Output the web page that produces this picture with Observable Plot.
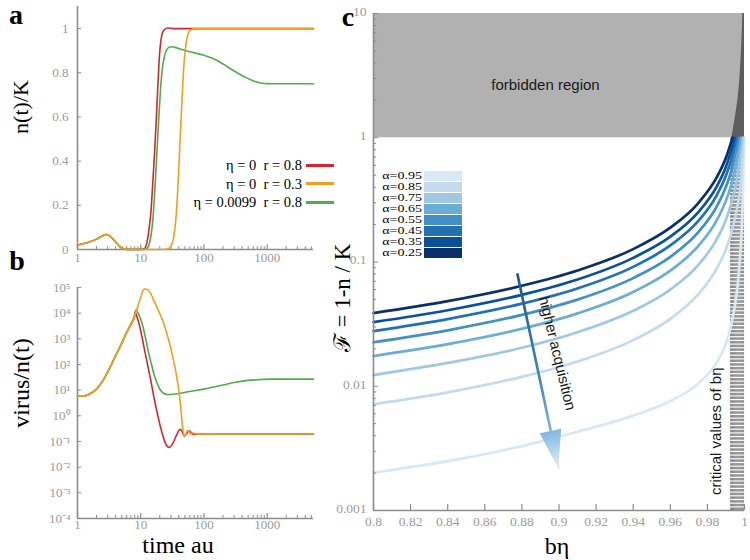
<!DOCTYPE html>
<html><head><meta charset="utf-8">
<script src="https://cdn.jsdelivr.net/npm/d3@7"></script>
<script src="https://cdn.jsdelivr.net/npm/@observablehq/plot@0.6"></script>
<style>
body{margin:0;background:#fff;}
#root{position:relative;width:750px;height:560px;overflow:hidden;font-family:"Liberation Serif","DejaVu Serif",serif;}
.lbl{position:absolute;white-space:pre;line-height:1;transform:translate(-50%,-50%);color:#000;font-family:"Liberation Serif","DejaVu Serif",serif;}
.rot{transform:translate(-50%,-50%) rotate(-90deg);}
</style></head><body><div id="root"></div>
<script>
// ---------------- data: panel a (n(t)/K vs time) ----------------
const aXMajor = [1, 10, 100, 1000];
const aYTicks = [0, 0.2, 0.4, 0.6, 0.8, 1];
const aEarlyT = [1, 1.5, 2, 2.5, 2.8, 3.2, 3.8, 4.5, 5.2, 6, 8];
const aEarlyN = [0.02, 0.033, 0.047, 0.062, 0.068, 0.063, 0.042, 0.018, 0.004, 0.0005, 0];
const aRedT = [10, 11.5, 12.5, 13.5, 14.5, 15.5, 16.5, 17.5, 18.5, 19.5, 20.5, 22, 24, 27, 32, 5400];
const aRedN = [0, 0.005, 0.03, 0.09, 0.17, 0.3, 0.43, 0.57, 0.72, 0.85, 0.93, 0.98, 0.997, 1.003, 1.0, 1.0];
const aGreenT = [10, 11, 12.5, 13.5, 14.5, 15.5, 16.5, 17.5, 18.5, 19.5, 20.5, 22, 24, 27, 30, 35, 45, 60, 100, 150, 200, 300, 450, 620, 800, 1000, 1500, 5400];
const aGreenN = [0, 0, 0.005, 0.02, 0.06, 0.13, 0.24, 0.37, 0.5, 0.62, 0.72, 0.82, 0.88, 0.912, 0.918, 0.915, 0.905, 0.895, 0.879, 0.86, 0.84, 0.808, 0.78, 0.762, 0.754, 0.751, 0.75, 0.75];
const aOrangeT = [10, 22, 27, 30, 33, 36, 39, 42, 45, 48, 52, 56, 62, 75, 5400];
const aOrangeN = [0, 0, 0.003, 0.015, 0.05, 0.14, 0.3, 0.5, 0.68, 0.83, 0.93, 0.975, 0.995, 1.0, 1.0];

// ---------------- data: panel b (virus/n(t) vs time) ----------------
const bYTicks = [1e-4, 1e-3, 1e-2, 1e-1, 1, 10, 100, 1e3, 1e4, 1e5];
const bYLabels = ["10⁻⁴", "10⁻³", "10⁻²", "10⁻¹", "10⁰", "10¹", "10²", "10³", "10⁴", "10⁵"];
const bEarlyT = [1, 1.3, 1.6, 2, 2.5, 3, 4, 5, 6, 7, 8];
const bEarlyV = [6.0, 6.0, 7.4, 11, 23, 51, 219, 661, 1780, 3720, 7940];
const bRedT = [8.1, 9, 10, 11.3, 12.75, 14.5, 16.2, 18.3, 20.6, 22.7, 24.9, 28, 31, 33.6, 38, 41.8, 45, 48.5, 53, 58.2, 64, 70, 80, 5400];
const bRedV = [10700, 5620, 2040, 457, 105, 22.4, 5.13, 1.26, 0.355, 0.151, 0.079, 0.059, 0.072, 0.107, 0.209, 0.302, 0.251, 0.166, 0.2, 0.263, 0.209, 0.19, 0.195, 0.195];
const bGreenT = [8.35, 9.5, 10.6, 12, 13.5, 15, 16.2, 18, 19.5, 21, 23.3, 26, 30, 40, 60, 100, 200, 300, 500, 750, 1200, 5400];
const bGreenV = [13180, 7940, 3720, 1000, 251, 89, 41.7, 20, 12.6, 9.3, 7.4, 6.8, 6.8, 7.4, 8.9, 11, 15.8, 20, 24, 25.7, 26.9, 26.9];
const bOrangeT = [9, 10, 10.7, 11.3, 12.5, 14, 16.2, 19.5, 23.3, 26.5, 29.7, 33, 35.7, 38, 40.2, 42, 43.9, 46, 48.5, 51, 54.7, 58, 61.8, 66, 75, 90, 5400];
const bOrangeV = [18620, 41690, 70790, 87100, 85110, 66070, 30200, 11220, 3715, 1318, 457, 141, 56.2, 22.4, 9.55, 3.55, 1.17, 0.355, 0.151, 0.178, 0.263, 0.24, 0.195, 0.219, 0.195, 0.195, 0.195];

// ---------------- data: panel c (F vs b*eta) ----------------
const cXTicks = [0.8, 0.82, 0.84, 0.86, 0.88, 0.9, 0.92, 0.94, 0.96, 0.98, 1];
const cXLabels = ["0.8", "0.82", "0.84", "0.86", "0.88", "0.9", "0.92", "0.94", "0.96", "0.98", "1"];
const cYTicks = [0.001, 0.01, 0.1, 1, 10];
const cYLabels = ["0.001", "0.01", "0.1", "1", "10"];
const alphas = [0.95, 0.85, 0.75, 0.65, 0.55, 0.45, 0.35, 0.25];
const blues = ["#dae8f5", "#c4daee", "#9ec9e1", "#6badd6", "#4291c6", "#2171b5", "#0a509b", "#0a2f6a"];
const cXBase = [0.8, 0.84, 0.88, 0.91, 0.94, 0.96, 0.975, 0.985, 0.99];
const c95X = [...cXBase, 0.994, 0.997, 0.999, 0.9998];
const c95F = [0.00202, 0.0025, 0.0033, 0.0043, 0.0058, 0.0076, 0.0105, 0.0155, 0.022, 0.038, 0.085, 0.3, 1];
const c85X = [...cXBase, 0.993, 0.996, 0.998, 0.9995];
const c85F = [0.00716, 0.00893, 0.0119, 0.0158, 0.0235, 0.0349, 0.0548, 0.0883, 0.127, 0.174, 0.272, 0.43, 1];
const c75X = [...cXBase, 0.993, 0.996, 0.9988];
const c75F = [0.0123, 0.0154, 0.0204, 0.0272, 0.0405, 0.060, 0.0943, 0.152, 0.219, 0.299, 0.468, 1];
const c65X = [...cXBase, 0.993, 0.995, 0.9978];
const c65F = [0.0175, 0.0218, 0.029, 0.0386, 0.0574, 0.0852, 0.134, 0.216, 0.312, 0.424, 0.559, 1];
const c55X = [...cXBase, 0.993, 0.9968];
const c55F = [0.0226, 0.0282, 0.0375, 0.0498, 0.0742, 0.110, 0.173, 0.279, 0.403, 0.548, 1];
const c45X = [...cXBase, 0.993, 0.9957];
const c45F = [0.0278, 0.0347, 0.0462, 0.0613, 0.0914, 0.136, 0.213, 0.344, 0.496, 0.675, 1];
const c35X = [...cXBase, 0.9947];
const c35F = [0.0328, 0.0409, 0.0544, 0.0723, 0.108, 0.160, 0.251, 0.405, 0.584, 1];
const c25X = [...cXBase, 0.9935];
const c25F = [0.0388, 0.0484, 0.0644, 0.0855, 0.127, 0.189, 0.297, 0.479, 0.691, 1];
const criticalX = [0.9925, 0.993, 0.9935, 0.994, 0.9945, 0.995, 0.9955, 0.996, 0.9965, 0.997, 0.9975, 0.998, 0.9985, 0.999, 0.9995];
const forbiddenX = [0.8, 1];
const forbiddenF = [1, 10];
const bandF = [1, 1.5, 2, 3, 4, 6, 8, 10];
const bandX = [0.9932, 0.9952, 0.9964, 0.9975, 0.998, 0.9986, 0.9989, 0.9991];
const arrowX = [0.8775, 0.8999];
const arrowF = [0.081, 0.00217];
const notes = [
  {x: 0.8927, F: 2.63, text: "forbidden region", rotate: 0},
  {x: 0.899, F: 0.0184, text: "higher acquisition", rotate: 76.5},
  {x: 0.9849, F: 0.00434, text: "critical values of bη", rotate: -90}
];

// ---------------- helpers ----------------
const root = document.getElementById("root");
const SERIF = "Liberation Serif";
const SANS = "Liberation Sans";
const axisColor = "#8c8c8c", labelColor = "#9b9b9b";
const RED = "#d7262b", ORANGE = "#f89c1c", GREEN = "#4dae4a";
const rows = (ts, vs) => ts.map((t, i) => ({t, v: vs[i]}));
function place(el, left, top) { el.style.position = "absolute"; el.style.left = left + "px"; el.style.top = top + "px"; root.appendChild(el); }
function label(text, cx, cy, size, opts = {}) {
  const d = document.createElement("div");
  d.className = "lbl" + (opts.rot ? " rot" : "");
  d.textContent = text;
  d.style.left = cx + "px"; d.style.top = cy + "px";
  d.style.fontSize = size + "px";
  if (opts.bold) d.style.fontWeight = "bold";
  root.appendChild(d);
}
const tickText = {fill: labelColor, fontFamily: SERIF, fontSize: 13};
const minorOf = (lo, hi, majors) => d3.scaleLog().domain([lo, hi]).ticks().filter(v => !majors.some(m => Math.abs(m - v) / m < 1e-9));

// ---------------- panel a ----------------
const aXMinor = minorOf(1, 5400, aXMajor);
const chartA = Plot.plot({
  width: 330, height: 275, marginLeft: 77, marginRight: 17, marginTop: 6, marginBottom: 26,
  x: {type: "log", domain: [1, 5400], axis: null},
  y: {domain: [0, 1.1], axis: null},
  style: {background: "transparent", overflow: "visible"},
  marks: [
    Plot.ruleX(aXMinor, {x: d => d, y1: 0, y2: 0.013, stroke: axisColor}),
    Plot.ruleX(aXMajor, {x: d => d, y1: 0, y2: 0.022, stroke: axisColor, strokeWidth: 1.2}),
    Plot.ruleY(aYTicks, {y: d => d, x1: 1, x2: 1.16, stroke: axisColor}),
    Plot.ruleX([1], {stroke: axisColor, strokeWidth: 1.6}),
    Plot.ruleY([0], {stroke: axisColor, strokeWidth: 1.6}),
    Plot.text(aXMajor, {x: d => d, frameAnchor: "bottom", dy: 12, text: d => String(d), ...tickText}),
    Plot.text(aYTicks, {y: d => d, frameAnchor: "left", dx: -9, textAnchor: "end", text: d => String(d), ...tickText}),
    Plot.line(rows([...aEarlyT, ...aRedT], [...aEarlyN, ...aRedN]), {x: "t", y: "v", stroke: RED, strokeWidth: 1.6, curve: "monotone-x"}),
    Plot.line(rows([...aEarlyT, ...aGreenT], [...aEarlyN, ...aGreenN]), {x: "t", y: "v", stroke: GREEN, strokeWidth: 1.6, curve: "monotone-x"}),
    Plot.line(rows([...aEarlyT, ...aOrangeT], [...aEarlyN, ...aOrangeN]), {x: "t", y: "v", stroke: ORANGE, strokeWidth: 1.6, curve: "monotone-x"})
  ]
});
place(chartA, 0, 0);

// ---------------- panel b ----------------
const bLo = 1e-4;
const chartB = Plot.plot({
  width: 330, height: 290, marginLeft: 77, marginRight: 17, marginTop: 17, marginBottom: 42,
  x: {type: "log", domain: [1, 5400], axis: null},
  y: {type: "log", domain: [1e-4, 1e5], axis: null},
  style: {background: "transparent", overflow: "visible"},
  marks: [
    Plot.ruleX(aXMinor, {x: d => d, y1: bLo, y2: bLo * 1.31, stroke: axisColor}),
    Plot.ruleX(aXMajor, {x: d => d, y1: bLo, y2: bLo * 1.57, stroke: axisColor, strokeWidth: 1.2}),
    Plot.ruleY(bYTicks, {y: d => d, x1: 1, x2: 1.16, stroke: axisColor}),
    Plot.ruleX([1], {stroke: axisColor, strokeWidth: 1.6}),
    Plot.ruleY([bLo], {stroke: axisColor, strokeWidth: 1.6}),
    Plot.text(aXMajor, {x: d => d, frameAnchor: "bottom", dy: 10, text: d => String(d), ...tickText}),
    Plot.text(bYTicks, {y: d => d, frameAnchor: "left", dx: -7, textAnchor: "end", text: (d, i) => bYLabels[i], ...tickText}),
    Plot.line(rows([...bEarlyT, ...bRedT], [...bEarlyV, ...bRedV]), {x: "t", y: "v", stroke: RED, strokeWidth: 1.6, curve: "monotone-x"}),
    Plot.line(rows([...bEarlyT, ...bGreenT], [...bEarlyV, ...bGreenV]), {x: "t", y: "v", stroke: GREEN, strokeWidth: 1.6, curve: "monotone-x"}),
    Plot.line(rows([...bEarlyT, ...bOrangeT], [...bEarlyV, ...bOrangeV]), {x: "t", y: "v", stroke: ORANGE, strokeWidth: 1.6, curve: "monotone-x"})
  ]
});
place(chartB, 0, 270);

// ---------------- panel c ----------------
const curveX = {0.95: c95X, 0.85: c85X, 0.75: c75X, 0.65: c65X, 0.55: c55X, 0.45: c45X, 0.35: c35X, 0.25: c25X};
const curveF = {0.95: c95F, 0.85: c85F, 0.75: c75F, 0.65: c65F, 0.55: c55F, 0.45: c45F, 0.35: c35F, 0.25: c25F};
const cData = alphas.flatMap(a => curveX[a].map((x, i) => ({alpha: a, x, F: curveF[a][i]})));
const bandData = bandF.map((F, i) => ({F, x1: bandX[i], x2: 1}));
const cYMinor = minorOf(0.001, 10, cYTicks);
const cLo = 0.001;
const chartC = Plot.plot({
  width: 420, height: 560, marginLeft: 43, marginRight: 6, marginTop: 13, marginBottom: 50,
  x: {domain: [0.8, 1], axis: null},
  y: {type: "log", domain: [0.001, 10], axis: null},
  color: {type: "ordinal", domain: alphas, range: blues},
  style: {background: "transparent", overflow: "visible"},
  marks: [
    Plot.rect([0], {x1: forbiddenX[0], x2: forbiddenX[1], y1: forbiddenF[0], y2: forbiddenF[1], fill: "#b1b1b1"}),
    Plot.areaX(bandData, {y: "F", x1: "x1", x2: "x2", fill: "#5d5d5d", curve: "monotone-y"}),
    Plot.ruleX(criticalX, {x: d => d, y1: cLo, y2: 1, stroke: "#5a5a5a", strokeWidth: 0.7, strokeDasharray: "2.5,1.2"}),
    Plot.line(cData, {x: "x", y: "F", z: "alpha", stroke: "alpha", strokeWidth: 2.7, curve: "monotone-x"}),
    Plot.ruleY(cYMinor, {y: d => d, x1: 0.8, x2: 0.8017, stroke: axisColor}),
    Plot.ruleY(cYTicks, {y: d => d, x1: 0.8, x2: 0.8028, stroke: axisColor}),
    Plot.ruleX(cXTicks, {x: d => d, y1: cLo, y2: cLo * 1.12, stroke: axisColor, strokeWidth: 1.2}),
    Plot.ruleX([0.8], {stroke: axisColor, strokeWidth: 1.6}),
    Plot.ruleY([cLo], {stroke: axisColor, strokeWidth: 1.6}),
    Plot.text(cXTicks, {x: d => d, frameAnchor: "bottom", dy: 15, text: (d, i) => cXLabels[i], ...tickText, fontSize: 13.5}),
    Plot.text(cYTicks, {y: d => d, frameAnchor: "left", dx: -7, dy: -2, textAnchor: "end", text: (d, i) => cYLabels[i], ...tickText, fontSize: 13.5}),
    Plot.link([0], {x1: arrowX[0], y1: arrowF[0], x2: arrowX[1], y2: arrowF[1], stroke: "url(#arrowGrad)", strokeWidth: 2.6}),
    Plot.text(notes, {x: "x", y: "F", text: "text", rotate: "rotate", fontFamily: SANS, fontSize: 15, fill: "#1a1a1a"})
  ]
});
place(chartC, 330, 0);

// arrow gradient + head, positioned through the plot's own scales
(function () {
  const sx = chartC.scale("x"), sy = chartC.scale("y");
  const X0 = sx.apply(arrowX[0]), Y0 = sy.apply(arrowF[0]);
  const X1 = sx.apply(arrowX[1]), Y1 = sy.apply(arrowF[1]);
  const svg = d3.select(chartC);
  const defs = svg.insert("defs", ":first-child");
  const g = defs.append("linearGradient").attr("id", "arrowGrad").attr("gradientUnits", "userSpaceOnUse")
    .attr("x1", X0).attr("y1", Y0).attr("x2", X1).attr("y2", Y1);
  g.append("stop").attr("offset", 0).attr("stop-color", "#1c5690");
  g.append("stop").attr("offset", 0.55).attr("stop-color", "#3f86bf");
  g.append("stop").attr("offset", 0.8).attr("stop-color", "#7db5de");
  g.append("stop").attr("offset", 1).attr("stop-color", "#e3eff9");
  const L = Math.hypot(X1 - X0, Y1 - Y0), ux = (X1 - X0) / L, uy = (Y1 - Y0) / L;
  const hl = 38, hw = 11;
  const bx = X1 - hl * ux, by = Y1 - hl * uy;
  const pts = [[bx + hw * uy, by - hw * ux], [bx - hw * uy, by + hw * ux], [X1, Y1]];
  svg.append("polygon").attr("points", pts.map(p => p.join(",")).join(" ")).attr("fill", "url(#arrowGrad)");
})();

// ---------------- legends & titles ----------------
const legA = [["η = 0  r = 0.8", RED], ["η = 0  r = 0.3", ORANGE], ["η = 0.0099  r = 0.8", GREEN]];
legA.forEach(([t, c], i) => {
  const y = 165 + i * 18.5;
  const d = document.createElement("div");
  d.textContent = t;
  d.style.cssText = `position:absolute;right:${750 - 302}px;top:${y - 8}px;font-family:'Liberation Serif',serif;font-size:14.5px;line-height:16px;white-space:pre;color:#000;`;
  root.appendChild(d);
  const s = document.createElement("div");
  s.style.cssText = `position:absolute;left:306px;top:${y - 1.5}px;width:28px;height:3px;background:${c};`;
  root.appendChild(s);
});
alphas.forEach((a, i) => {
  const y = 171 + i * 11;
  const d = document.createElement("div");
  d.textContent = "α=" + a;
  d.style.cssText = `position:absolute;right:${750 - 422}px;top:${y}px;height:10px;font-family:'Liberation Serif',serif;font-size:14px;line-height:10px;white-space:pre;color:#000;transform:scaleY(0.8);transform-origin:right center;`;
  root.appendChild(d);
  const s = document.createElement("div");
  s.style.cssText = `position:absolute;left:424px;top:${y}px;width:38px;height:10px;background:${blues[i]};`;
  root.appendChild(s);
});
label("a", 16, 15, 28, {bold: true});
label("b", 17, 261, 28, {bold: true});
label("c", 348, 17, 28, {bold: true});
label("n(t)/K", 21, 107, 22, {rot: true});
label("virus/n(t)", 21, 383, 24, {rot: true});
label("time au", 178, 545, 24);
label("bη", 557, 546, 24);
label("ℱ = 1-n / K", 342, 298, 23, {rot: true});
</script></body></html>
